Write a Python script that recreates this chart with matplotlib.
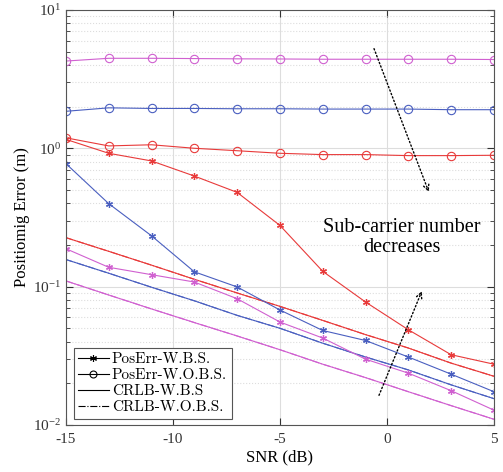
import numpy as np
import matplotlib
matplotlib.use("Agg")
import matplotlib.pyplot as plt

plt.rcParams['font.family'] = ['Liberation Serif', 'DejaVu Serif']
plt.rcParams['mathtext.fontset'] = 'stix'
plt.rcParams['mathtext.default'] = 'regular'
plt.rcParams['axes.unicode_minus'] = False

snr = [-15, -13, -11, -9, -7, -5, -3, -1, 1, 3, 5]

# PosErr with beam selection (stars)
wbs_red = [1.16, 0.92, 0.81, 0.63, 0.48, 0.277, 0.129, 0.0774, 0.0488, 0.0322, 0.0275]
wbs_blue = [0.775, 0.398, 0.233, 0.128, 0.0995, 0.0678, 0.0482, 0.0408, 0.031, 0.0233, 0.0174]
wbs_mag = [0.188, 0.138, 0.122, 0.108, 0.0818, 0.0555, 0.0425, 0.0299, 0.0237, 0.0177, 0.0128]

# PosErr without beam selection (circles)
wobs_red = [1.19, 1.04, 1.06, 1.0, 0.96, 0.92, 0.90, 0.90, 0.885, 0.885, 0.89]
wobs_blue = [1.85, 1.96, 1.94, 1.94, 1.93, 1.93, 1.92, 1.92, 1.92, 1.90, 1.90]
wobs_mag = [4.27, 4.47, 4.47, 4.45, 4.43, 4.42, 4.40, 4.40, 4.40, 4.40, 4.38]

# CRLB curves
crlb_red = [0.226, 0.180, 0.143, 0.113, 0.090, 0.072, 0.057, 0.045, 0.036, 0.028, 0.0225]
crlb_blue = [0.157, 0.125, 0.099, 0.079, 0.062, 0.050, 0.039, 0.031, 0.025, 0.0195, 0.0155]
crlb_mag = [0.110, 0.087, 0.069, 0.055, 0.044, 0.035, 0.0275, 0.022, 0.0174, 0.0138, 0.011]

red = '#e83a3a'
blue = '#4a5fc0'
mag = '#d060d0'
star = (6, 2, 0)

fig = plt.figure(figsize=(5.03, 4.72), dpi=100)
ax = fig.add_axes([0.131, 0.0996, 0.851, 0.8794])

lw = 0.8
for c, wb, wo, cr in [(red, wbs_red, wobs_red, crlb_red),
                      (blue, wbs_blue, wobs_blue, crlb_blue),
                      (mag, wbs_mag, wobs_mag, crlb_mag)]:
    ax.plot(snr, wo, color=c, lw=lw, marker='o', ms=6, mfc='none', mew=0.8)
    ax.plot(snr, wb, color=c, lw=lw, marker=star, ms=5, mew=0.9)
    ax.plot(snr, cr, color=c, lw=lw)
    ax.plot(snr, cr, color=c, lw=lw, ls='-.')

ax.set_yscale('log')
ax.set_xlim(-15, 5)
ax.set_ylim(1e-2, 1e1)
ax.set_xticks([-15, -10, -5, 0, 5])
ax.tick_params(which='both', direction='in', top=True, right=True, labelsize=11, colors='#333333')
ax.tick_params(which='major', length=5)
ax.tick_params(which='minor', length=3)
ax.tick_params(axis='x', pad=6)
for s in ax.spines.values():
    s.set_color('#555555')
    s.set_linewidth(0.8)

ax.grid(True, which='major', color='#dddddd', lw=0.8, ls='-')
ax.grid(True, which='minor', axis='y', color='#dddddd', lw=0.8, ls=':')
ax.set_axisbelow(True)

ax.set_xlabel('SNR (dB)', fontsize=12, labelpad=2)
ax.set_ylabel('Positiomig Error (m)', fontsize=12, labelpad=2)

# legend entries in black
h1, = ax.plot([], [], color='k', lw=lw, marker=star, ms=5, mew=0.8)
h2, = ax.plot([], [], color='k', lw=lw, marker='o', ms=5, mfc='none', mew=0.8)
h3, = ax.plot([], [], color='k', lw=lw)
h4, = ax.plot([], [], color='k', lw=lw, ls='-.')
leg = ax.legend([h1, h2, h3, h4],
                ['PosErr-W.B.S.', 'PosErr-W.O.B.S.', 'CRLB-W.B.S', 'CRLB-W.O.B.S.'],
                loc='lower left', bbox_to_anchor=(0.018, 0.015), fancybox=False,
                framealpha=1, edgecolor='#555555', handlelength=2.0,
                handletextpad=0.2, borderpad=0.3, labelspacing=0.15,
                borderaxespad=0, prop={'family': 'cmr10', 'size': 11})
leg.get_frame().set_linewidth(0.8)

# annotation arrows
ax.annotate('', xy=(2.0, 0.464), xytext=(-0.65, 5.48),
            arrowprops=dict(arrowstyle='->', ls=':', color='k', lw=1.0))
ax.annotate('', xy=(1.68, 0.0968), xytext=(-0.42, 0.0157),
            arrowprops=dict(arrowstyle='->', ls=':', color='k', lw=1.0))
ax.text(0.7, 0.226, 'Sub-carrier number\ndecreases', ha='center', va='center',
        fontsize=14.5, linespacing=1.1)

fig.savefig('out.png', dpi=100)
